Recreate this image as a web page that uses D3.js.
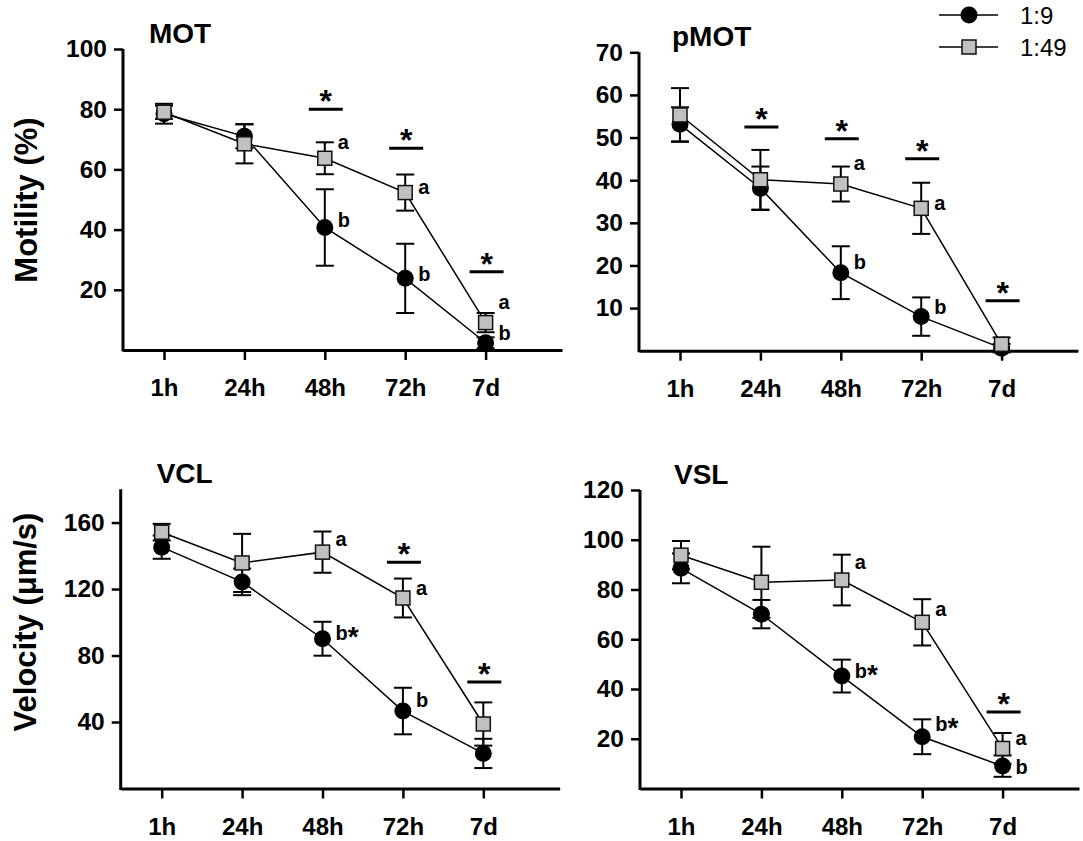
<!DOCTYPE html>
<html>
<head>
<meta charset="utf-8">
<script src="https://cdn.jsdelivr.net/npm/d3@7"></script>
<style>
    body { margin: 0; background: #fff; }
    svg { display: block; font-family: Arial, "Liberation Sans", sans-serif; }
</style>
</head>
<body>
<svg id="chart" width="1083" height="841"></svg>
<script>
const categories = ['1h', '24h', '48h', '72h', '7d'];
const seriesNames = ['1:9', '1:49'];

// MOT
const motLow = [78.5, 71, 40.7, 23.8, 2.4];
const motLowErr = [3.3, 4, 12.7, 11.5, 1.8];
const motHigh = [79, 68.5, 63.7, 52.3, 9.1];
const motHighErr = [2.2, 6.5, 5.3, 6, 3.2];
const motTicks = [20, 40, 60, 80, 100];
const motStars = [{ at: '48h', v: 80 }, { at: '72h', v: 67 }, { at: '7d', v: 26 }];
const motLetters = [
    { at: '48h', v: 69.2, t: 'a' }, { at: '48h', v: 43.2, t: 'b' },
    { at: '72h', v: 54.3, t: 'a' }, { at: '72h', v: 25.2, t: 'b' },
    { at: '7d', v: 16, t: 'a' }, { at: '7d', v: 5.7, t: 'b' }
];

// pMOT
const pmotLow = [53.1, 38.1, 18.3, 8.0, 0.6];
const pmotLowErr = [4, 5.1, 6.2, 4.5, 1];
const pmotHigh = [55.3, 40.1, 39.1, 33.4, 1.5];
const pmotHighErr = [6.3, 7, 4.1, 6, 1.6];
const pmotTicks = [10, 20, 30, 40, 50, 60, 70];
const pmotStars = [{ at: '24h', v: 52.5 }, { at: '48h', v: 49.7 }, { at: '72h', v: 45 }, { at: '7d', v: 11.7 }];
const pmotLetters = [
    { at: '48h', v: 44, t: 'a' }, { at: '48h', v: 20.9, t: 'b' },
    { at: '72h', v: 34.7, t: 'a' }, { at: '72h', v: 10.3, t: 'b' }
];

// VCL
const vclLow = [145.2, 124.3, 90.1, 46.6, 21.1];
const vclLowErr = [7, 8, 10.2, 14, 8.8];
const vclHigh = [154.2, 135.7, 142.2, 114.6, 38.8];
const vclHighErr = [5, 17.5, 12.4, 11.7, 13];
const vclTicks = [40, 80, 120, 160];
const vclStars = [{ at: '72h', v: 136.1 }, { at: '7d', v: 64 }];
const vclLetters = [
    { at: '48h', v: 150.4, t: 'a' }, { at: '48h', v: 93.5, t: 'b', star: true },
    { at: '72h', v: 121, t: 'a' }, { at: '72h', v: 53.3, t: 'b' }
];

// VSL
const vslLow = [88.5, 70.1, 45.2, 20.8, 9];
const vslLowErr = [6, 5.7, 6.6, 7, 4.3];
const vslHigh = [93.8, 82.9, 83.8, 66.8, 16.1];
const vslHighErr = [5.7, 14.3, 10.2, 9.3, 6.2];
const vslTicks = [20, 40, 60, 80, 100, 120];
const vslStars = [{ at: '7d', v: 30.8 }];
const vslLetters = [
    { at: '48h', v: 91, t: 'a' }, { at: '48h', v: 47.5, t: 'b', star: true },
    { at: '72h', v: 72.3, t: 'a' }, { at: '72h', v: 26.1, t: 'b', star: true },
    { at: '7d', v: 20.5, t: 'a' }, { at: '7d', v: 8.7, t: 'b' }
];

const svg = d3.select('#chart');

const panels = [
    { title: 'MOT', titleDx: 26, left: 123, top: 49, bottom: 350, max: 100, ticks: motTicks,
      low: motLow, lowErr: motLowErr, high: motHigh, highErr: motHighErr, stars: motStars, letters: motLetters },
    { title: 'pMOT', titleDx: 33, left: 639, top: 52.3, bottom: 350.7, max: 70, ticks: pmotTicks,
      low: pmotLow, lowErr: pmotLowErr, high: pmotHigh, highErr: pmotHighErr, stars: pmotStars, letters: pmotLetters },
    { title: 'VCL', titleDx: 36, left: 120.7, top: 489.3, bottom: 788.5, max: 180, ticks: vclTicks,
      low: vclLow, lowErr: vclLowErr, high: vclHigh, highErr: vclHighErr, stars: vclStars, letters: vclLetters },
    { title: 'VSL', titleDx: 34, left: 640, top: 490, bottom: 788.5, max: 120, ticks: vslTicks,
      low: vslLow, lowErr: vslLowErr, high: vslHigh, highErr: vslHighErr, stars: vslStars, letters: vslLetters }
];

const step = 80.4;
const grey = '#c0c0c0';
const fontFam = 'Arial, "Liberation Sans", sans-serif';

function drawPanel(p) {
    const g = svg.append('g');
    const x = d3.scaleLinear()
        .domain([-0.51, 4.95])
        .range([p.left, p.left + 5.46 * step]);
    const xc = c => x(categories.indexOf(c));
    const y = d3.scaleLinear()
        .domain([0, p.max])
        .range([p.bottom, p.top]);

    // y axis
    const yAxis = g.append('g')
        .attr('transform', `translate(${p.left},0)`)
        .call(d3.axisLeft(y).tickValues(p.ticks).tickSize(9).tickPadding(7).tickSizeOuter(0));
    yAxis.select('.domain')
        .attr('stroke-width', 3)
        .attr('d', `M0,${p.bottom + 1.5}V${p.top}`);
    yAxis.selectAll('.tick line').attr('stroke-width', 2.5);
    yAxis.selectAll('.tick text')
        .attr('font-size', 24.5).attr('font-weight', 'bold').attr('fill', '#000')
        .attr('font-family', fontFam);

    // x axis
    const xAxis = g.append('g')
        .attr('transform', `translate(0,${p.bottom})`)
        .call(d3.axisBottom(x).tickValues(d3.range(categories.length))
            .tickFormat(i => categories[i]).tickSize(10).tickPadding(19).tickSizeOuter(0));
    xAxis.select('.domain').attr('stroke-width', 3);
    xAxis.selectAll('.tick line').attr('stroke-width', 2.5);
    xAxis.selectAll('.tick text')
        .attr('font-size', 24).attr('font-weight', 'bold').attr('fill', '#000')
        .attr('font-family', fontFam);

    // title
    g.append('text')
        .attr('x', p.left + p.titleDx)
        .attr('y', p.top - 6)
        .attr('font-size', 28)
        .attr('font-weight', 'bold')
        .text(p.title);

    const series = [
        { key: 'low', values: p.low, errs: p.lowErr },
        { key: 'high', values: p.high, errs: p.highErr }
    ];

    series.forEach(s => {
        const rows = s.values.map((v, i) => ({ i, v, e: s.errs[i] }));
        const eb = g.append('g').attr('stroke', '#000').attr('stroke-width', 2);
        eb.selectAll('line.v').data(rows).enter().append('line')
            .attr('x1', d => x(d.i)).attr('x2', d => x(d.i))
            .attr('y1', d => y(d.v - d.e)).attr('y2', d => y(d.v + d.e));
        eb.selectAll('line.t').data(rows).enter().append('line')
            .attr('x1', d => x(d.i) - 9).attr('x2', d => x(d.i) + 9)
            .attr('y1', d => y(d.v + d.e)).attr('y2', d => y(d.v + d.e));
        eb.selectAll('line.b').data(rows).enter().append('line')
            .attr('x1', d => x(d.i) - 9).attr('x2', d => x(d.i) + 9)
            .attr('y1', d => y(d.v - d.e)).attr('y2', d => y(d.v - d.e));
    });

    series.forEach(s => {
        const rows = s.values.map((v, i) => ({ i, v }));
        g.append('path')
            .datum(rows)
            .attr('d', d3.line().x(d => x(d.i)).y(d => y(d.v)))
            .attr('fill', 'none')
            .attr('stroke', '#000')
            .attr('stroke-width', 1.5);
        if (s.key === 'low') {
            g.selectAll(null).data(rows).enter().append('circle')
                .attr('cx', d => x(d.i)).attr('cy', d => y(d.v))
                .attr('r', 8.5).attr('fill', '#000');
        } else {
            g.selectAll(null).data(rows).enter().append('rect')
                .attr('x', d => x(d.i) - 7).attr('y', d => y(d.v) - 7)
                .attr('width', 14).attr('height', 14)
                .attr('fill', grey).attr('stroke', '#111').attr('stroke-width', 1.5);
        }
    });

    // significance bars
    p.stars.forEach(st => {
        g.append('line')
            .attr('x1', xc(st.at) - 16).attr('x2', xc(st.at) + 18)
            .attr('y1', y(st.v)).attr('y2', y(st.v))
            .attr('stroke', '#000').attr('stroke-width', 3);
        g.append('text')
            .attr('x', xc(st.at) + 1)
            .attr('y', y(st.v) + 3)
            .attr('text-anchor', 'middle')
            .attr('font-size', 32)
            .attr('font-weight', 'bold')
            .text('*');
    });

    // letters
    p.letters.forEach(l => {
        const t = g.append('text')
            .attr('x', xc(l.at) + 13)
            .attr('y', y(l.v))
            .attr('dy', '0.36em')
            .attr('font-size', 20)
            .attr('font-weight', 'bold')
            .text(l.t);
        if (l.star) {
            t.append('tspan').attr('font-size', 28).attr('dy', '0.22em').text('*');
        }
    });
}

panels.forEach(drawPanel);

// y axis titles
svg.append('text')
    .attr('transform', 'translate(37,200) rotate(-90)')
    .attr('text-anchor', 'middle')
    .attr('font-size', 31)
    .attr('font-weight', 'bold')
    .text('Motility (%)');

svg.append('text')
    .attr('transform', 'translate(36,622) rotate(-90)')
    .attr('text-anchor', 'middle')
    .attr('font-size', 31)
    .attr('font-weight', 'bold')
    .text('Velocity (μm/s)');

// legend
const legend = svg.append('g');
seriesNames.forEach((name, i) => {
    const ly = 15 + i * 32;
    legend.append('line')
        .attr('x1', 939).attr('x2', 998).attr('y1', ly).attr('y2', ly)
        .attr('stroke', '#000').attr('stroke-width', 1.5);
    if (i === 0) {
        legend.append('circle').attr('cx', 969).attr('cy', ly).attr('r', 8.5).attr('fill', '#000');
    } else {
        legend.append('rect').attr('x', 962).attr('y', ly - 7).attr('width', 14).attr('height', 14)
            .attr('fill', grey).attr('stroke', '#111').attr('stroke-width', 1.5);
    }
    legend.append('text')
        .attr('x', 1020).attr('y', ly).attr('dy', '0.36em')
        .attr('font-size', 24)
        .text(name);
});
</script>
</body>
</html>
